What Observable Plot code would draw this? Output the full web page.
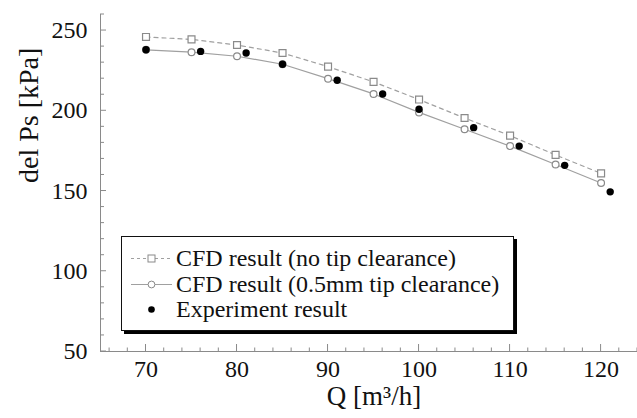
<!DOCTYPE html>
<html>
<head>
<meta charset="utf-8">
<script src="https://cdn.jsdelivr.net/npm/d3@7"></script>
<script src="https://cdn.jsdelivr.net/npm/@observablehq/plot@0.6"></script>
<style>
  html, body { margin: 0; padding: 0; background: #fff; }
  #wrap { position: relative; width: 637px; height: 418px; font-family: "Liberation Serif", "Times New Roman", serif; }
  #wrap svg text { font-family: "Liberation Serif", "Times New Roman", serif; }
  #legend { position: absolute; left: 121px; top: 236px; width: 391px; height: 93px; background: #fff;
            border: 1px solid #111; box-shadow: 3px 3px 0 #000; box-sizing: content-box; }
  .row { position: absolute; left: 0; height: 25px; display: flex; align-items: center; font-size: 24px; color: #111; white-space: nowrap; }
  .row svg { width: 54px; height: 25px; flex: none; }
</style>
</head>
<body>
<div id="wrap"></div>
<script>
// ---- data ----
const qCfd = [70, 75, 80, 85, 90, 95, 100, 105, 110, 115, 120];
const noTip = [246, 244.5, 241, 236, 227.5, 218, 207, 195.5, 184.5, 172.5, 161];
const tip05 = [238, 236.5, 234, 229, 220, 210.5, 199, 188.5, 178, 166.5, 155];
const qExp = [70, 76, 81, 85, 91, 96, 100, 106, 111, 116, 121];
const expVals = [238, 237, 236, 229, 219, 210.5, 201, 189.5, 178, 166, 149.5];
const xTicks = [70, 80, 90, 100, 110, 120];
const yTicks = [50, 100, 150, 200, 250];
const seriesNames = ["CFD result (no tip clearance)", "CFD result (0.5mm tip clearance)", "Experiment result"];
const xLabel = "Q [m³/h]";
const yLabel = "del Ps [kPa]";

const noTipData = qCfd.map((q, i) => ({q, v: noTip[i]}));
const tipData = qCfd.map((q, i) => ({q, v: tip05[i]}));
const expData = qExp.map((q, i) => ({q, v: expVals[i]}));

const xMinor = d3.range(66, 124.01, 2).filter(v => !xTicks.includes(v));
const yMinor = d3.range(50, 260.01, 10).filter(v => !yTicks.includes(v));

const serif = "Liberation Serif, Times New Roman, serif";

// inward ticks drawn through the plot's scales
function inwardTicks(index, scales, values, dimensions) {
  const {x, y} = scales;
  const x0 = dimensions.marginLeft;
  const y0 = dimensions.height - dimensions.marginBottom;
  const g = d3.create("svg:g").attr("stroke", "#8a8a8a").attr("stroke-width", 1).attr("fill", "none");
  for (const t of xTicks) g.append("line").attr("x1", x(t)).attr("x2", x(t)).attr("y1", y0).attr("y2", y0 - 7);
  for (const t of xMinor) g.append("line").attr("x1", x(t)).attr("x2", x(t)).attr("y1", y0).attr("y2", y0 - 3.5);
  for (const t of yTicks) g.append("line").attr("y1", y(t)).attr("y2", y(t)).attr("x1", x0).attr("x2", x0 + 6);
  for (const t of yMinor) g.append("line").attr("y1", y(t)).attr("y2", y(t)).attr("x1", x0).attr("x2", x0 + 4);
  return g.node();
}

const chart = Plot.plot({
  width: 637,
  height: 418,
  marginLeft: 100,
  marginRight: 0,
  marginTop: 14,
  marginBottom: 67,
  style: {fontFamily: serif, fontSize: "24px", color: "#111", background: "#fff"},
  x: {domain: [65, 124]},
  y: {domain: [50, 260]},
  marks: [
    Plot.axisX({ticks: xTicks, tickSize: 0, tickPadding: 8, label: null, fontFamily: serif, fontSize: 24, fill: "#111"}),
    Plot.axisY({ticks: yTicks, tickSize: 0, tickPadding: 13, label: null, fontFamily: serif, fontSize: 24, fill: "#111"}),
    Plot.ruleX([65], {stroke: "#8a8a8a"}),
    Plot.ruleY([50], {stroke: "#8a8a8a"}),
    inwardTicks,
    Plot.line(noTipData, {x: "q", y: "v", stroke: "#a0a0a0", strokeWidth: 1.2, strokeDasharray: "4,4"}),
    Plot.dot(noTipData, {x: "q", y: "v", symbol: "square", r: 3.9, stroke: "#8a8a8a", fill: "#fff", strokeWidth: 1.2}),
    Plot.line(tipData, {x: "q", y: "v", stroke: "#a0a0a0", strokeWidth: 1.2}),
    Plot.dot(tipData, {x: "q", y: "v", symbol: "circle", r: 3.4, stroke: "#8a8a8a", fill: "#fff", strokeWidth: 1.2}),
    Plot.dot(expData, {x: "q", y: "v", symbol: "circle", r: 3.7, fill: "#000", stroke: "none"}),
    Plot.text([xLabel], {frameAnchor: "bottom", dx: 5, dy: 53, fontSize: 27, fontFamily: serif, fill: "#111"}),
    Plot.text([yLabel], {frameAnchor: "left", dx: -71, rotate: -90, fontSize: 28, fontFamily: serif, fill: "#111"})
  ]
});

const wrap = document.getElementById("wrap");
wrap.appendChild(chart);

// legend
const legend = document.createElement("div");
legend.id = "legend";
const sw = [
  `<svg viewBox="0 0 54 25"><line x1="9" x2="50" y1="12.5" y2="12.5" stroke="#a0a0a0" stroke-dasharray="3,3"/><rect x="26" y="9" width="7" height="7" fill="#fff" stroke="#8a8a8a"/></svg>`,
  `<svg viewBox="0 0 54 25"><line x1="9" x2="50" y1="12.5" y2="12.5" stroke="#a0a0a0"/><circle cx="29.5" cy="12.5" r="3.4" fill="#fff" stroke="#8a8a8a"/></svg>`,
  `<svg viewBox="0 0 54 25"><circle cx="29.5" cy="12.5" r="3.3" fill="#000"/></svg>`
];
seriesNames.forEach((name, i) => {
  const r = document.createElement("div");
  r.className = "row";
  r.style.top = (9 + i * 25.5) + "px";
  r.innerHTML = sw[i] + `<span>${name}</span>`;
  legend.appendChild(r);
});
wrap.appendChild(legend);
</script>
</body>
</html>
